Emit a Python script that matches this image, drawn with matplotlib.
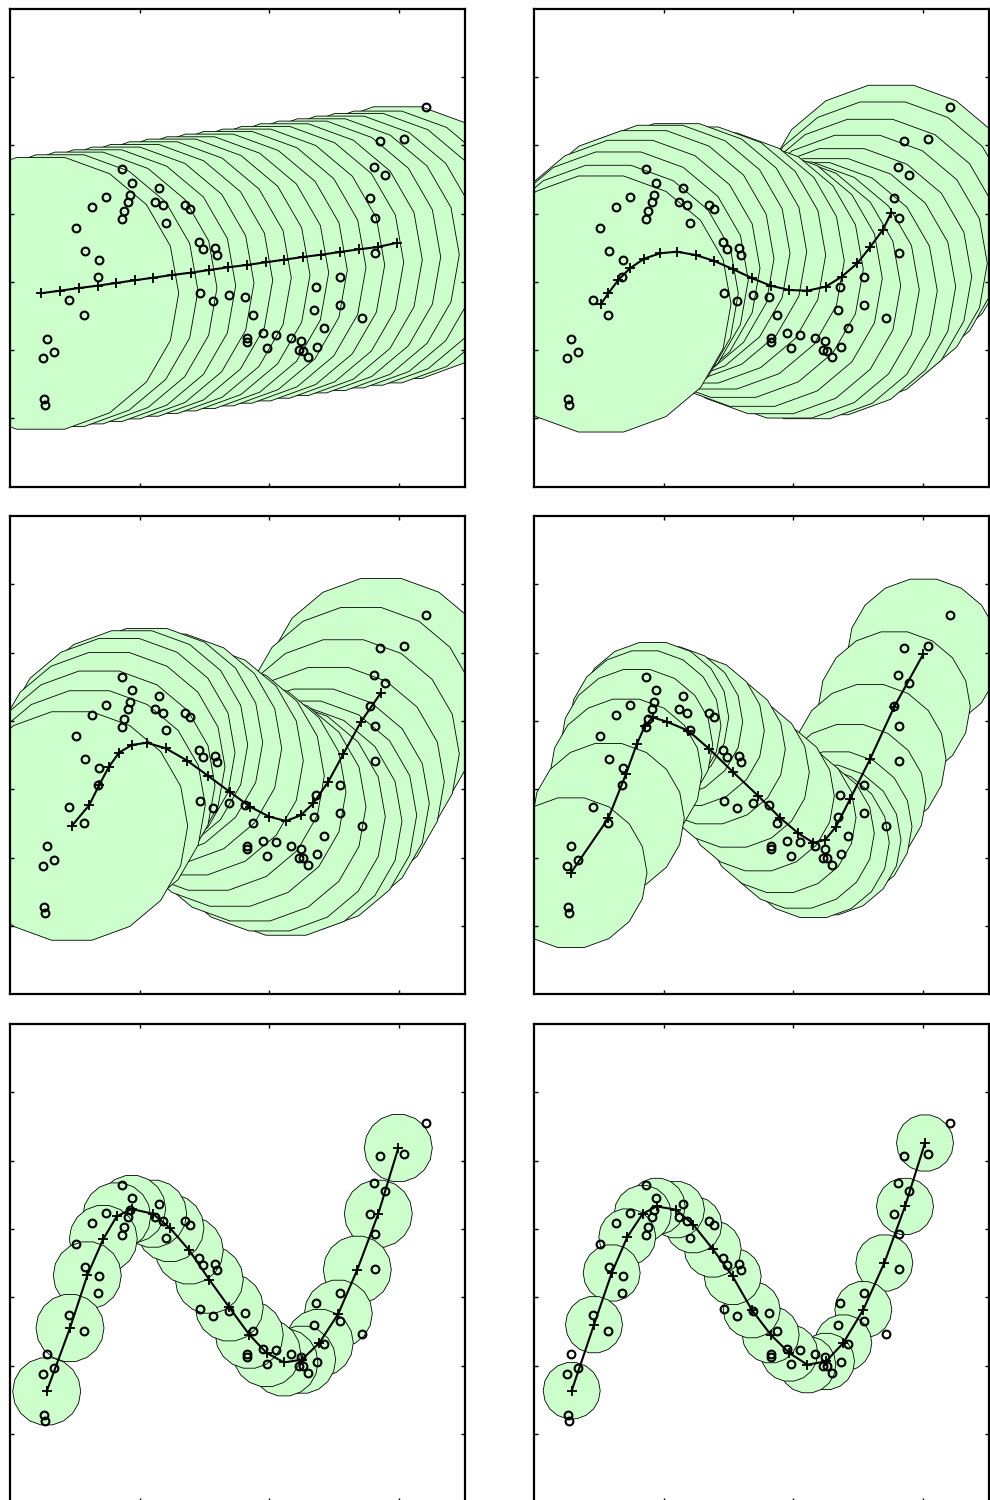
import numpy as np
import matplotlib
matplotlib.use("Agg")
import matplotlib.pyplot as plt
from matplotlib.patches import Polygon

# ---- data (units: arbitrary; axes span 0..455 x 0..478) ----
data_x = [415.7, 370, 393.7, 364, 375.3, 360, 365, 365.3, 329.7, 330, 351.7, 306, 304.3,
          313.7, 307.3, 298, 293.3, 288.7, 290.7, 280.7, 266.3, 253.3, 257.3, 236.7, 236.7,
          242.7, 235.3, 219, 202.7, 190.3, 188.7, 193.3, 205.3, 206.7, 175.3, 180, 149, 145,
          152.7, 155.7, 112.3, 121.7, 120, 118, 113.7, 112.3, 95.7, 82, 66, 75.3, 89, 88, 59,
          74.3, 36.7, 43.7, 33, 33.7, 35]
data_y = [379.7, 346, 348, 319.4, 311.4, 288.4, 268.4, 233.4, 209.4, 181.4, 168.7, 199.4, 177,
          158.4, 140, 129.4, 136, 136.7, 145.4, 148.4, 152, 153.4, 138.4, 148.7, 145,
          171.4, 189.4, 191.4, 186, 193.4, 244.4, 237.4, 238.4, 232, 281.7, 277.4, 298.4, 285,
          281.7, 264, 317.4, 304, 292, 285, 275.4, 267.4, 289.7, 279.4, 258.4, 235.7, 226.7, 209.4, 187,
          171.4, 148, 134.4, 128.4, 87.4, 81.4]

# node (mixture centre) positions for each of the six panels
nodes1_x = [30.7, 50, 69, 87.7, 106, 124.7, 143.3, 162, 180.7, 199.3, 218, 236.7, 255.7,
            274.3, 292.7, 311.3, 330, 349, 367.7, 387.3]
nodes1_y = [193.4, 196, 198.7, 201, 203.7, 206.4, 209, 211.7, 214, 216.7, 219.4, 221.7,
            224.4, 227, 229.7, 232, 234.7, 237.4, 239.7, 244]

nodes2_x = [67, 74.3, 84.3, 96, 110, 126, 142.7, 161.7, 180.3, 199.3, 218.3, 236.7, 255.3,
            273.3, 291.7, 307.7, 323.3, 336, 348.7, 357]
nodes2_y = [182.7, 193.4, 206.7, 218.4, 228, 233.4, 235, 231.7, 225.7, 217.4, 208.4, 201,
            196.7, 196, 200, 210, 223.4, 239.4, 256.7, 273.4]

nodes3_x = [61.7, 79.3, 89, 99, 109, 121.7, 136.7, 155.7, 177.3, 198.3, 220, 240, 259.3,
            276, 290.7, 303.3, 318.3, 333.3, 351, 371]
nodes3_y = [168.2, 189.2, 208.9, 227.5, 241.5, 249.2, 251.5, 245.9, 233.5, 218.2, 202.2,
            187.5, 177.5, 173.2, 178.9, 190.9, 212.5, 240.2, 272.5, 301.5]

nodes4_x = [37, 74.3, 92, 102.7, 111, 118.7, 132.7, 154.3, 175.3, 199.3, 224.3, 246, 264.3,
            279.3, 291, 302, 316, 336, 360.3, 389.3]
nodes4_y = [121.5, 175.9, 220.2, 249.9, 268.5, 276.9, 272.5, 263.5, 245.2, 221.9, 198.2,
            176.5, 160.9, 151.5, 154.2, 167.5, 194.9, 234.9, 287.5, 340.2]

nodes5_x = [36.7, 60, 77.3, 93.3, 106.7, 121.7, 142.7, 160, 179.3, 199.3, 219.3, 239.3,
            256.7, 274, 291.7, 309.3, 328.3, 347.3, 368.3, 388.3]
nodes5_y = [110.8, 174.2, 226.8, 263.2, 285.8, 293.2, 288.5, 274.2, 251.8, 222.5, 194.8,
            167.5, 149.2, 139.8, 142.5, 159.2, 188.5, 232.5, 288.5, 354.2]

nodes6_x = [37.7, 60, 77.7, 93.3, 108.7, 122.7, 142, 159.3, 178.7, 198.7, 217.7, 236.7,
            255.3, 273.3, 292, 309.3, 329.3, 350.3, 371, 391]
nodes6_y = [111.5, 177.5, 229.2, 265.2, 288.5, 295.8, 292.5, 277.5, 253.2, 225.8, 192.5,
            167.5, 149.2, 137.5, 140.8, 159.2, 192.5, 239.2, 295.8, 359.2]

radii = [138, 130, 116, 76, 34, 28.5]

nodes_x = [nodes1_x, nodes2_x, nodes3_x, nodes4_x, nodes5_x, nodes6_x]
nodes_y = [nodes1_y, nodes2_y, nodes3_y, nodes4_y, nodes5_y, nodes6_y]

XMAX, YMAX = 455.0, 478.0
xticks = [129.7, 259.4, 389.1]
yticks = [68.3 * k for k in range(1, 7)]

# ---- figure ----
W, H = 990, 1500
fig = plt.figure(figsize=(W / 100, H / 100), dpi=100)

lefts = [10, 534]
tops = [8.7, 516.2, 1024.2]

theta = np.linspace(0, 2 * np.pi, 19)
green = '#ccffcc'

for i in range(6):
    r, c = divmod(i, 2)
    l = lefts[c]
    t = tops[r]
    ax = fig.add_axes([l / W, (H - t - YMAX) / H, XMAX / W, YMAX / H])
    ax.set_xlim(0, XMAX)
    ax.set_ylim(0, YMAX)
    R = radii[i]
    nx = nodes_x[i]
    ny = nodes_y[i]
    n = len(nx)
    for k in range(n - 1, -1, -1):
        verts = np.column_stack([nx[k] + R * np.cos(theta), ny[k] + R * np.sin(theta)])
        ax.add_patch(Polygon(verts, closed=True, facecolor=green, edgecolor='k',
                             linewidth=0.6, zorder=1 + (n - k) * 0.01))
    ax.plot(data_x, data_y, 'o', mfc='none', mec='k', ms=5.6, mew=1.5, zorder=3)
    ax.plot(nx, ny, '-', color='k', lw=1.5, marker='+', ms=6.5, mew=1.3, zorder=4)
    ax.set_xticks(xticks)
    ax.set_yticks(yticks)
    ax.tick_params(direction='in', length=3.0, width=1.0, top=True, right=True,
                   labelbottom=False, labelleft=False)
    for sp in ax.spines.values():
        sp.set_linewidth(1.6)
        sp.set_zorder(10)

fig.savefig('out.png', dpi=100)
